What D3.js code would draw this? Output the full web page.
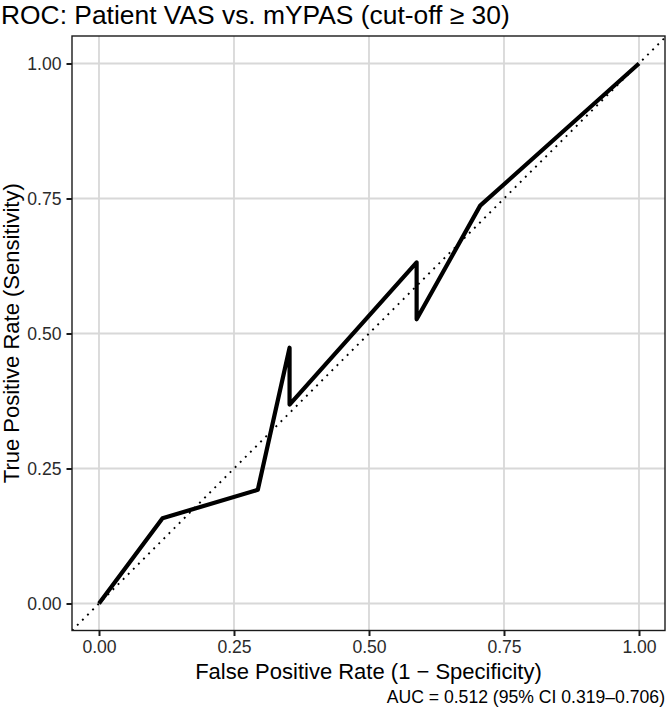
<!DOCTYPE html>
<html>
<head>
<meta charset="utf-8">
<script src="https://cdn.jsdelivr.net/npm/d3@7"></script>
<style>
  html, body { margin: 0; padding: 0; background: #fff; }
  svg { display: block; font-family: "Liberation Sans", Arial, Helvetica, sans-serif; }
</style>
</head>
<body>
<svg id="chart" width="666" height="712"></svg>
<script>
// ROC curve points (1 - specificity, sensitivity)
const fpr = [0, 0.1176, 0.2941, 0.3529, 0.3529, 0.5882, 0.5882, 0.7059, 1];
const tpr = [0, 0.1579, 0.2105, 0.4737, 0.3684, 0.6316, 0.5263, 0.7368, 1];
const xTicks = [0, 0.25, 0.5, 0.75, 1];
const yTicks = [0, 0.25, 0.5, 0.75, 1];
const titleText = "ROC: Patient VAS vs. mYPAS (cut-off \u2265 30)";
const xLabel = "False Positive Rate (1 \u2212 Specificity)";
const yLabel = "True Positive Rate (Sensitivity)";
const caption = "AUC = 0.512 (95% CI 0.319\u20130.706)";

const svg = d3.select("#chart");
const P = { left: 72, right: 665, top: 36, bottom: 630.5 };

const x = d3.scaleLinear().domain([-0.05, 1.05]).range([P.left, P.left + 594]);
const y = d3.scaleLinear().domain([-0.05, 1.05]).range([P.bottom, P.bottom - 594]);

svg.append("defs").append("clipPath").attr("id", "clip")
  .append("rect").attr("x", P.left).attr("y", P.top)
  .attr("width", P.right - P.left).attr("height", P.bottom - P.top);

// gridlines
const grid = svg.append("g");
grid.selectAll("line.v").data(xTicks).join("line")
  .attr("x1", d => x(d)).attr("x2", d => x(d))
  .attr("y1", P.top).attr("y2", P.bottom)
  .attr("stroke", "#d8d8d8").attr("stroke-width", 1.8);
grid.selectAll("line.h").data(yTicks).join("line")
  .attr("y1", d => y(d)).attr("y2", d => y(d))
  .attr("x1", P.left).attr("x2", P.right)
  .attr("stroke", "#d8d8d8").attr("stroke-width", 1.8);

const plot = svg.append("g").attr("clip-path", "url(#clip)");

// diagonal reference
plot.append("line")
  .attr("x1", x(-0.05)).attr("y1", y(-0.05))
  .attr("x2", x(1.05)).attr("y2", y(1.05))
  .attr("stroke", "#000").attr("stroke-width", 1.9)
  .attr("stroke-dasharray", "1.9,5.3");

// ROC line
const pts = fpr.map((f, i) => [f, tpr[i]]);
plot.append("path")
  .datum(pts)
  .attr("d", d3.line().x(d => x(d[0])).y(d => y(d[1])))
  .attr("fill", "none").attr("stroke", "#000")
  .attr("stroke-width", 4.2).attr("stroke-linejoin", "round");

// panel border
svg.append("rect")
  .attr("x", P.left).attr("y", P.top)
  .attr("width", P.right - P.left).attr("height", P.bottom - P.top)
  .attr("fill", "none").attr("stroke", "#1a1a1a").attr("stroke-width", 1.4);

// axes
const fmt = d3.format(".2f");
const xAxis = svg.append("g").attr("transform", `translate(0,${P.bottom})`)
  .call(d3.axisBottom(x).tickValues(xTicks).tickFormat(fmt).tickSize(5.5).tickPadding(5));
const yAxis = svg.append("g").attr("transform", `translate(${P.left},0)`)
  .call(d3.axisLeft(y).tickValues(yTicks).tickFormat(fmt).tickSize(5.5).tickPadding(5));
[xAxis, yAxis].forEach(a => {
  a.select(".domain").remove();
  a.selectAll(".tick line").attr("stroke", "#1a1a1a").attr("stroke-width", 2);
  a.selectAll(".tick text").attr("fill", "#2b2b2b")
    .style("font-size", "17.6px").style("font-family", "Liberation Sans, Arial, sans-serif");
});

// title
svg.append("text").attr("x", 1).attr("y", 24)
  .style("font-size", "26.4px").attr("fill", "#000").text(titleText);

// axis titles
svg.append("text").attr("x", (P.left + P.right) / 2).attr("y", 678.5)
  .attr("text-anchor", "middle").style("font-size", "22px").attr("fill", "#000")
  .text(xLabel);
svg.append("text")
  .attr("transform", `translate(18.5,${(P.top + P.bottom) / 2}) rotate(-90)`)
  .attr("text-anchor", "middle").style("font-size", "22px").attr("fill", "#000")
  .text(yLabel);

// caption
svg.append("text").attr("x", 665).attr("y", 703)
  .attr("text-anchor", "end").style("font-size", "17.6px").attr("fill", "#000")
  .text(caption);
</script>
</body>
</html>
